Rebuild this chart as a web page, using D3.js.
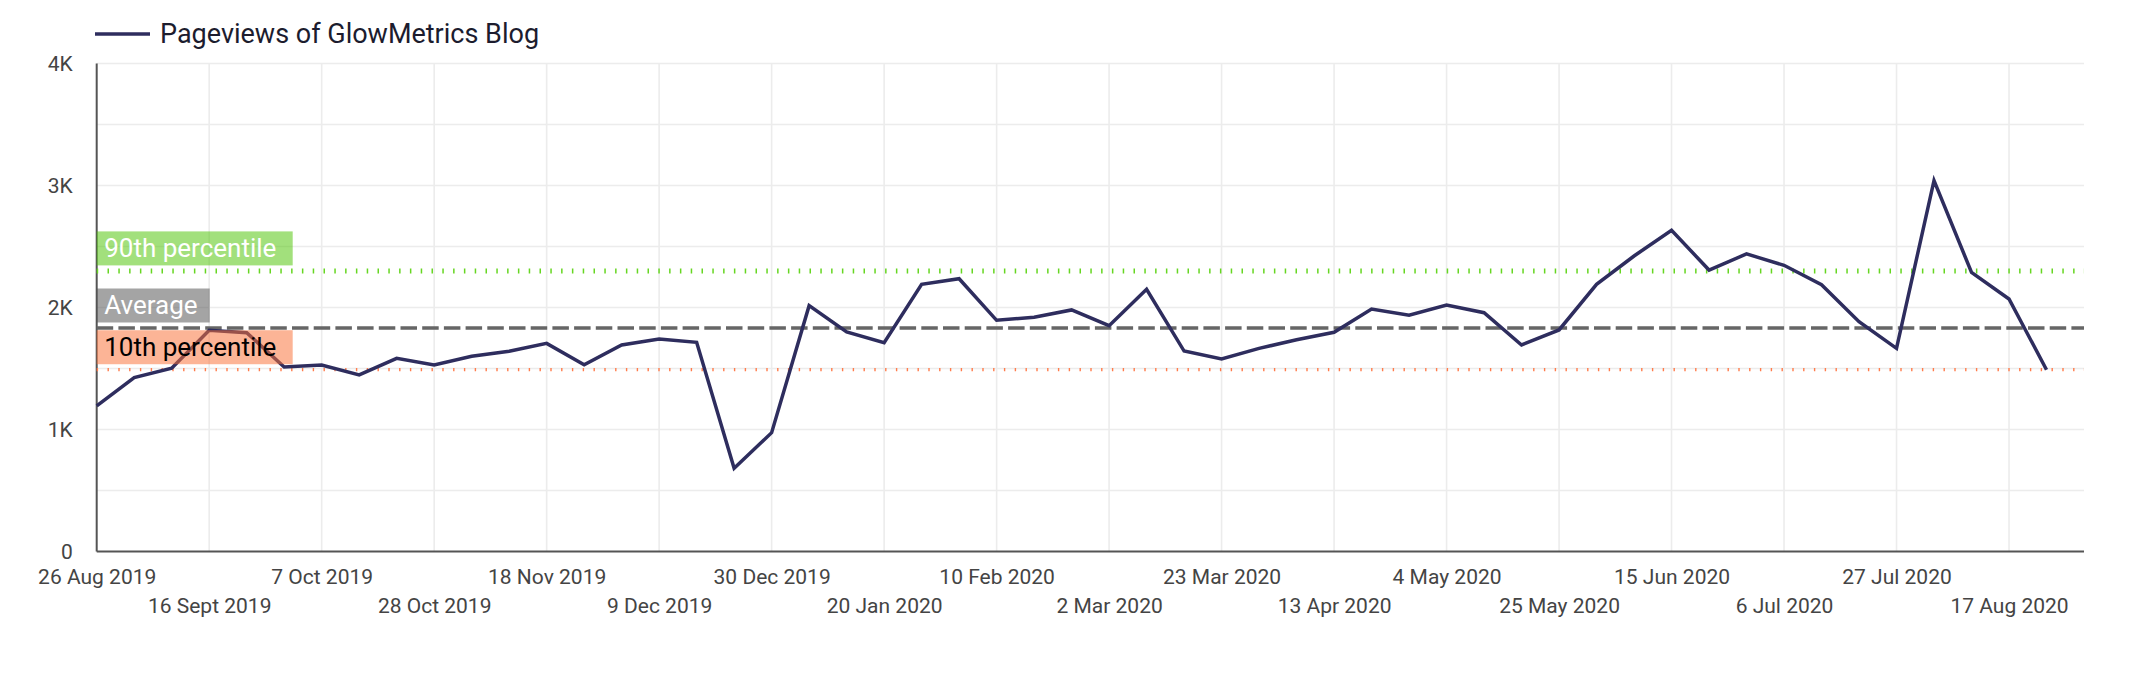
<!DOCTYPE html>
<html>
<head>
<meta charset="utf-8">
<script src="https://cdn.jsdelivr.net/npm/d3@7"></script>
<style>
  body { margin: 0; background: #fff; }
  text { font-family: Roboto, "Noto Sans", sans-serif; }
</style>
</head>
<body>
<div id="chart"></div>
<script>
// weekly pageviews
const weeks = [
  "2019-08-26","2019-09-02","2019-09-09","2019-09-16","2019-09-23","2019-09-30","2019-10-07","2019-10-14",
  "2019-10-21","2019-10-28","2019-11-04","2019-11-11","2019-11-18","2019-11-25","2019-12-02","2019-12-09",
  "2019-12-16","2019-12-23","2019-12-30","2020-01-06","2020-01-13","2020-01-20","2020-01-27","2020-02-03",
  "2020-02-10","2020-02-17","2020-02-24","2020-03-02","2020-03-09","2020-03-16","2020-03-23","2020-03-30",
  "2020-04-06","2020-04-13","2020-04-20","2020-04-27","2020-05-04","2020-05-11","2020-05-18","2020-05-25",
  "2020-06-01","2020-06-08","2020-06-15","2020-06-22","2020-06-29","2020-07-06","2020-07-13","2020-07-20",
  "2020-07-27","2020-08-03","2020-08-10","2020-08-17","2020-08-24"
];
const pageviews = [
  1193, 1425, 1502, 1813, 1794, 1512, 1529, 1447, 1583, 1529,
  1600, 1641, 1706, 1531, 1693, 1742, 1715, 682, 974, 2015,
  1799, 1712, 2190, 2236, 1895, 1920, 1980, 1851, 2149, 1643,
  1578, 1665, 1736, 1797, 1988, 1936, 2020, 1957, 1693, 1816,
  2190, 2422, 2633, 2307, 2439, 2346, 2187, 1884, 1665, 3040,
  2288, 2070, 1490
];
const tickDates = [
  "2019-08-26","2019-09-16","2019-10-07","2019-10-28","2019-11-18","2019-12-09",
  "2019-12-30","2020-01-20","2020-02-10","2020-03-02","2020-03-23","2020-04-13",
  "2020-05-04","2020-05-25","2020-06-15","2020-07-06","2020-07-27","2020-08-17"
];
const tickLabels = [
  "26 Aug 2019","16 Sept 2019","7 Oct 2019","28 Oct 2019","18 Nov 2019","9 Dec 2019",
  "30 Dec 2019","20 Jan 2020","10 Feb 2020","2 Mar 2020","23 Mar 2020","13 Apr 2020",
  "4 May 2020","25 May 2020","15 Jun 2020","6 Jul 2020","27 Jul 2020","17 Aug 2020"
];
const yTicks = [0, 1000, 2000, 3000, 4000];
const yGrid = [500, 1000, 1500, 2000, 2500, 3000, 3500, 4000];
const refNames = ["90th percentile", "Average", "10th percentile"];
const refValues = [2300, 1832, 1490];

const width = 2132, height = 676;
const margin = { top: 63.5, right: 48, bottom: 124.5, left: 96.7 };
const parse = d3.utcParse("%Y-%m-%d");

const svg = d3.select("#chart").append("svg")
  .attr("width", width)
  .attr("height", height);

const x = d3.scaleUtc()
  .domain([parse("2019-08-26"), parse("2020-08-31")])
  .range([margin.left, width - margin.right]);

const y = d3.scaleLinear()
  .domain([0, 4000])
  .range([height - margin.bottom, margin.top]);

const data = weeks.map((w, i) => ({ date: parse(w), value: pageviews[i] }));

// grid
const grid = svg.append("g");
grid.selectAll(".hgrid").data(yGrid).join("line")
  .attr("x1", margin.left).attr("x2", width - margin.right)
  .attr("y1", d => y(d)).attr("y2", d => y(d))
  .attr("stroke", "#ececec").attr("stroke-width", 1.6);
grid.selectAll(".vgrid").data(tickDates.slice(1)).join("line")
  .attr("x1", d => x(parse(d))).attr("x2", d => x(parse(d)))
  .attr("y1", y(0)).attr("y2", y(4000))
  .attr("stroke", "#ececec").attr("stroke-width", 1.6);

// y axis labels
const yAxis = svg.append("g")
  .attr("transform", `translate(${margin.left},0)`)
  .call(d3.axisLeft(y).tickValues(yTicks).tickSize(0).tickPadding(24)
    .tickFormat(d => d === 0 ? "0" : (d / 1000) + "K"));
yAxis.select(".domain").remove();
yAxis.selectAll("text")
  .attr("fill", "#444")
  .style("font-size", "21px")
  .style("font-family", "Roboto");

// x axis labels, alternating rows
const xAxis = svg.append("g")
  .attr("transform", `translate(0,${y(0)})`)
  .call(d3.axisBottom(x).tickValues(tickDates.map(parse)).tickSize(0)
    .tickFormat((d, i) => tickLabels[i]));
xAxis.select(".domain").remove();
xAxis.selectAll("text")
  .attr("fill", "#444")
  .attr("dy", null)
  .attr("y", (d, i) => i % 2 === 0 ? 32.5 : 61.8)
  .style("font-size", "21px")
  .style("font-family", "Roboto");

// axis lines
svg.append("line")
  .attr("x1", margin.left).attr("x2", margin.left)
  .attr("y1", y(4000)).attr("y2", y(0))
  .attr("stroke", "#555").attr("stroke-width", 2);
svg.append("line")
  .attr("x1", margin.left).attr("x2", width - margin.right)
  .attr("y1", y(0)).attr("y2", y(0))
  .attr("stroke", "#555").attr("stroke-width", 2);

// reference lines
const refStyle = [
  { color: "#66d622", width: 5, dash: "1.5,9.3" },
  { color: "#666666", width: 3.3, dash: "16.5,5.2" },
  { color: "#ff7c4c", width: 3.3, dash: "1.4,9.4" }
];
svg.selectAll(".ref").data(refValues).join("line")
  .attr("x1", margin.left).attr("x2", width - margin.right)
  .attr("y1", d => y(d)).attr("y2", d => y(d))
  .attr("stroke", (d, i) => refStyle[i].color)
  .attr("stroke-width", (d, i) => refStyle[i].width)
  .attr("stroke-dasharray", (d, i) => refStyle[i].dash);

// series
const line = d3.line()
  .x(d => x(d.date))
  .y(d => y(d.value));

svg.append("path")
  .datum(data)
  .attr("fill", "none")
  .attr("stroke", "#2e2d5e")
  .attr("stroke-width", 3.5)
  .attr("stroke-linejoin", "miter")
  .attr("d", line);

// reference labels (drawn over the series, translucent)
const labelFill = ["#4fc408", "#535353", "#f97139"];
const labelText = ["#fff", "#fff", "#000"];
const labelW = [196, 113, 196];
const labels = svg.selectAll(".reflabel").data(refValues).join("g")
  .attr("transform", d => `translate(${margin.left},${y(d) - 39.5})`);
labels.append("rect")
  .attr("width", (d, i) => labelW[i])
  .attr("height", 34)
  .attr("fill", (d, i) => labelFill[i])
  .attr("fill-opacity", 0.53);
labels.append("text")
  .attr("x", 7.5)
  .attr("y", 26)
  .attr("fill", (d, i) => labelText[i])
  .style("font-size", "26px")
  .text((d, i) => refNames[i]);

// legend
const legend = svg.append("g").attr("transform", "translate(95,34)");
legend.append("line")
  .attr("x1", 0).attr("x2", 55)
  .attr("stroke", "#2e2d5e").attr("stroke-width", 3.5);
legend.append("text")
  .attr("x", 65)
  .attr("dy", "0.35em")
  .attr("fill", "#1c1c2e")
  .style("font-size", "27px")
  .text("Pageviews of GlowMetrics Blog");
</script>
</body>
</html>
